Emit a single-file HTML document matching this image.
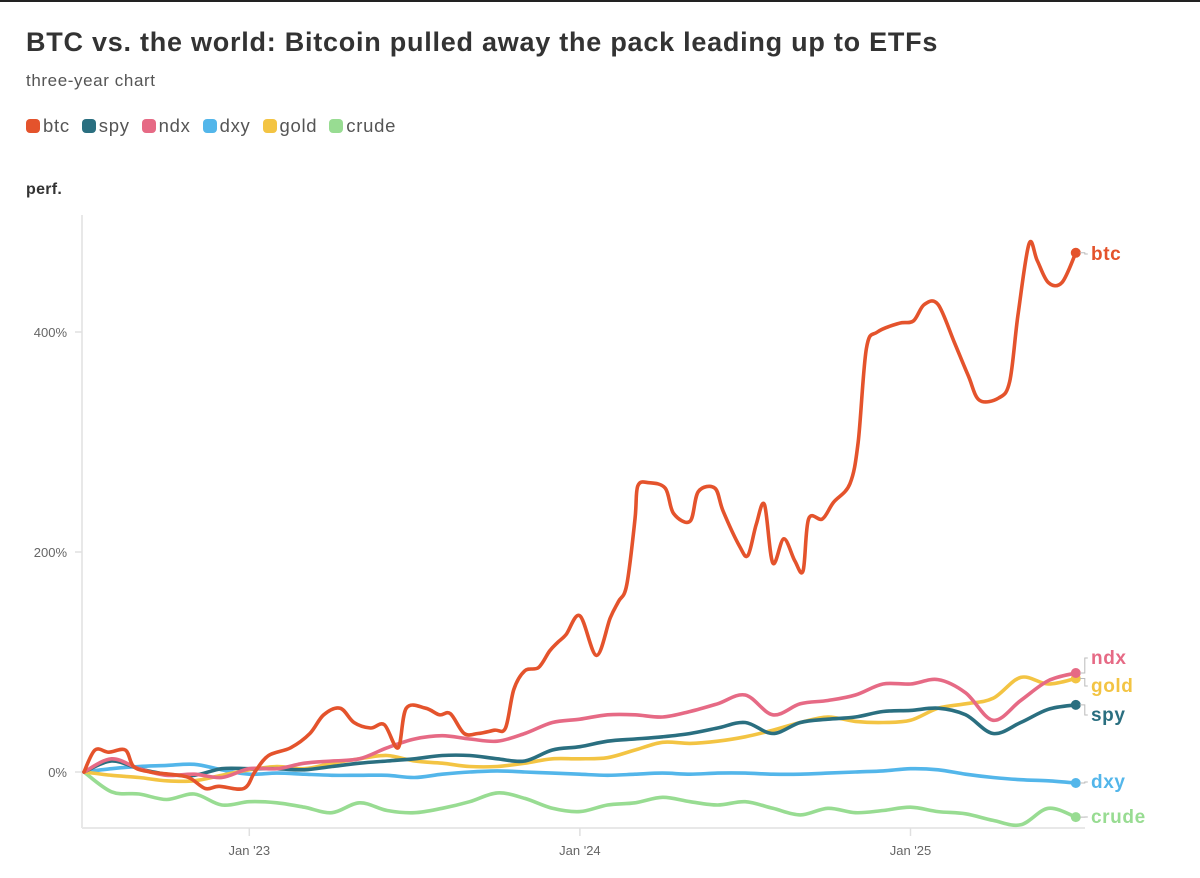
<!DOCTYPE html>
<html><head><meta charset="utf-8"><style>
html,body{margin:0;padding:0;background:#fff;}
body{width:1200px;height:878px;overflow:hidden;font-family:"Liberation Sans",sans-serif;position:relative;}
#topbar{position:absolute;left:0;top:0;width:1200px;height:2px;background:#222;}
#title{position:absolute;left:26px;top:27px;font-size:27px;font-weight:bold;color:#333;letter-spacing:0.75px;white-space:nowrap;}
#sub{position:absolute;left:26px;top:71px;font-size:17px;color:#555;letter-spacing:0.6px;}
#legend{position:absolute;left:26px;top:115px;font-size:18.5px;color:#555;display:flex;gap:12px;letter-spacing:0.7px;}
.li{display:flex;align-items:center;}
.sw{width:14px;height:14px;border-radius:4px;margin-right:3px;}
#perf{position:absolute;left:26px;top:181px;font-size:16px;font-weight:bold;color:#333;letter-spacing:0.3px;}
svg{position:absolute;left:0;top:0;}
</style></head><body>
<div id="topbar"></div>
<div id="title">BTC vs. the world: Bitcoin pulled away the pack leading up to ETFs</div>
<div id="sub">three-year chart</div>
<div id="legend">
<div class="li"><span class="sw" style="background:#e4532c"></span>btc</div>
<div class="li"><span class="sw" style="background:#2a6f80"></span>spy</div>
<div class="li"><span class="sw" style="background:#e66a85"></span>ndx</div>
<div class="li"><span class="sw" style="background:#53b6ea"></span>dxy</div>
<div class="li"><span class="sw" style="background:#f3c443"></span>gold</div>
<div class="li"><span class="sw" style="background:#98dc92"></span>crude</div>
</div>
<div id="perf">perf.</div>
<svg id="chart" width="1200" height="878"></svg>
<script>
// months since Jul 2022
const btcMonths=[0,0.4,0.9,1.5,1.8,2.4,3.1,3.8,4.4,4.9,5.8,6.2,6.7,7.5,8.2,8.7,9.3,9.8,10.4,10.9,11.4,11.7,12.4,12.9,13.3,13.8,14.3,14.9,15.3,15.6,16.0,16.5,16.9,17.2,17.5,18.0,18.6,19.1,19.4,19.7,20.0,20.1,20.5,21.1,21.4,22.0,22.3,22.9,23.2,23.8,24.1,24.4,24.7,25.0,25.4,25.8,26.1,26.3,26.8,27.2,27.8,28.1,28.4,28.8,29.6,30.1,30.5,31.0,31.6,32.1,32.5,33.2,33.6,33.9,34.3,34.6,35.0,35.5,36.0];
const btcValues=[0,20,18,20,5,0,-2,-5,-15,-13,-15,0,15,22,35,52,58,45,40,43,22,58,58,52,53,35,35,38,40,75,92,95,110,118,125,142,106,140,155,170,230,260,263,258,235,228,255,258,237,205,197,225,243,190,212,192,183,230,230,245,262,300,385,400,408,410,425,425,390,360,338,340,355,415,480,465,445,445,472];
const months=[0,1,2,3,4,5,6,7,8,9,10,11,12,13,14,15,16,17,18,19,20,21,22,23,24,25,26,27,28,29,30,31,32,33,34,35,36];
const ndxValues=[0,12,3,-3,-2,-5,3,3,8,10,12,22,30,33,30,28,35,45,48,52,52,50,55,62,70,52,62,65,70,80,80,84,72,47,65,83,90];
const spyValues=[0,10,3,-2,-3,3,3,3,2,5,8,10,12,15,15,12,10,20,23,28,30,32,35,40,45,35,45,48,50,55,56,58,52,35,45,57,61];
const goldValues=[0,-3,-5,-8,-8,-3,2,5,3,8,12,15,10,8,5,5,8,12,12,13,20,27,26,28,32,38,45,50,46,45,47,58,62,67,86,80,85];
const dxyValues=[0,3,5,6,7,2,-2,-1,-2,-3,-3,-3,-5,-2,0,1,0,-1,-2,-3,-2,-1,-2,-1,-1,-2,-2,-1,0,1,3,2,-2,-5,-7,-8,-10];
const crudeValues=[0,-18,-20,-25,-20,-30,-27,-28,-32,-37,-28,-35,-37,-33,-27,-19,-24,-33,-36,-30,-28,-23,-27,-30,-27,-33,-39,-33,-37,-35,-32,-36,-38,-44,-48,-33,-41];
const yTicks=[0,200,400];
const yTickLabels=["0%","200%","400%"];
const xTickMonths=[6,18,30];
const xTickLabels=["Jan '23","Jan '24","Jan '25"];

const svg=document.getElementById('chart');
const NS='http://www.w3.org/2000/svg';
const X0=84,XW=27.55,Y0=772,YK=1.1;
function xs(m){return X0+m*XW;}
function ys(v){return Y0-v*YK;}
function mk(t,a){const e=document.createElementNS(NS,t);for(const k in a)e.setAttribute(k,a[k]);svg.appendChild(e);return e;}

let e;
e=mk('line',{x1:82,y1:215,x2:82,y2:828,stroke:'#e8e8e8','stroke-width':2});


e=mk('line',{x1:82,y1:828,x2:1085,y2:828,stroke:'#e8e8e8','stroke-width':2});


yTicks.forEach((v,i)=>{
  const t=mk('line',{x1:75,x2:82,y1:ys(v),y2:ys(v),stroke:'#e0e0e0','stroke-width':1.5});
  
  
  const l=mk('text',{x:67,y:ys(v)+5,'text-anchor':'end','font-size':13,fill:'#666','font-family':'Liberation Sans, sans-serif'});
  l.textContent=yTickLabels[i];
  
  
});
xTickMonths.forEach((m,i)=>{
  const t=mk('line',{x1:xs(m),x2:xs(m),y1:828,y2:836,stroke:'#e0e0e0','stroke-width':1.5});
  
  
  const l=mk('text',{x:xs(m),y:855,'text-anchor':'middle','font-size':13,fill:'#666','font-family':'Liberation Sans, sans-serif'});
  l.textContent=xTickLabels[i];
  
  
});
function pathD(pts){
  let d='M'+pts[0][0].toFixed(1)+','+pts[0][1].toFixed(1);
  for(let i=0;i<pts.length-1;i++){
    const p0=pts[Math.max(i-1,0)],p1=pts[i],p2=pts[i+1],p3=pts[Math.min(i+2,pts.length-1)];
    const c1x=p1[0]+(p2[0]-p0[0])/6,c1y=p1[1]+(p2[1]-p0[1])/6;
    const c2x=p2[0]-(p3[0]-p1[0])/6,c2y=p2[1]-(p3[1]-p1[1])/6;
    d+='C'+c1x.toFixed(1)+','+c1y.toFixed(1)+' '+c2x.toFixed(1)+','+c2y.toFixed(1)+' '+p2[0].toFixed(1)+','+p2[1].toFixed(1);
  }
  return d;
}
const series=[
  ['crude',months,crudeValues,'#98dc92',817],
  ['dxy',months,dxyValues,'#53b6ea',782],
  ['gold',months,goldValues,'#f3c443',686],
  ['spy',months,spyValues,'#2a6f80',715],
  ['ndx',months,ndxValues,'#e66a85',658],
  ['btc',btcMonths,btcValues,'#e4532c',254]
];
series.forEach(s=>{
  const pts=s[1].map((m,i)=>[xs(m),ys(s[2][i])]);
  const p=mk('path',{d:pathD(pts),fill:'none',stroke:s[3],'stroke-width':3.6,'stroke-linejoin':'round','stroke-linecap':'round'});
  
  
  const last=pts[pts.length-1];
  const c=mk('circle',{cx:last[0],cy:last[1],r:5,fill:s[3]});
  
  
  const cn=mk('path',{d:'M'+(last[0]+4)+','+last[1]+' L'+(last[0]+9)+','+last[1]+' L'+(last[0]+9)+','+s[4]+' L'+(last[0]+12)+','+s[4],fill:'none',stroke:'#bbb','stroke-width':1});
  
  
  const t=mk('text',{x:1091,y:s[4]+6,'font-size':19,'font-weight':'bold',fill:s[3],'letter-spacing':0.6,'font-family':'Liberation Sans, sans-serif'});
  t.textContent=s[0];
  
  
});
</script>
</body></html>
